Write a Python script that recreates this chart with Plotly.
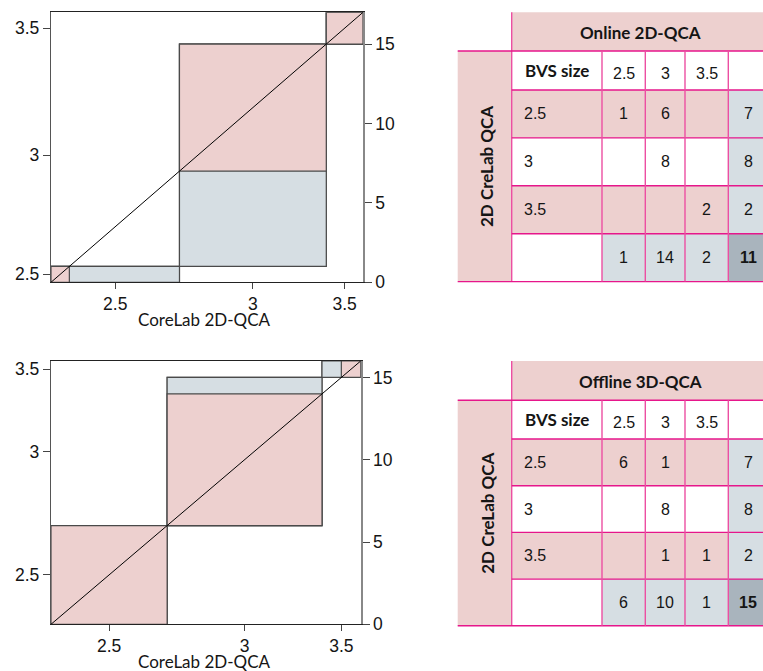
import plotly.graph_objects as go

# ---------------- data ----------------
categories = ["2.5", "3", "3.5"]
# cross-tabulations drawn in the agreement charts
# rows = CoreLab 2D-QCA (x axis), columns = compared method (y axis)
online_chart_counts = [[1, 6, 0], [0, 8, 0], [0, 0, 2]]
offline_chart_counts = [[6, 0, 0], [0, 8, 0], [0, 1, 1]]
count_ticks = [0, 5, 10, 15]

x_title = "CoreLab 2D-QCA"
row_axis_title = "2D CreLab QCA"
corner_label = "BVS size"

online_title = "Online 2D-QCA"
online_cells = [["1", "6", ""], ["", "8", ""], ["", "", "2"]]
online_row_totals = ["7", "8", "2"]
online_col_totals = ["1", "14", "2"]
online_agreement = "11"

offline_title = "Offline 3D-QCA"
offline_cells = [["6", "1", ""], ["", "8", ""], ["", "1", "1"]]
offline_row_totals = ["7", "8", "2"]
offline_col_totals = ["6", "10", "1"]
offline_agreement = "15"

# ---------------- style ----------------
W, H = 763, 671
PINK = "#edd0cf"
GREY = "#d6dee3"
DARK = "#a9b4bd"
MAG = "#e6168b"
MAG_V = "#ec4fa2"
BORDER = "#4a4a4a"
TXT = "#151515"
NUM_FONT = "Liberation Sans, Arial, sans-serif"
LAB_FONT = "Lato, Open Sans, sans-serif"


def px(x):
    return x / W


def py(y):
    return 1 - y / H


fig = go.Figure()
shapes = []
annotations = []


def add_chart(counts, xname, yname, y2name, dom_x, dom_y, title_y):
    n = len(counts)
    row_tot = [sum(r) for r in counts]
    col_tot = [sum(counts[k][i] for k in range(n)) for i in range(n)]
    total = sum(row_tot)
    xref, yref = xname.replace("axis", ""), yname.replace("axis", "")
    x_start = [sum(row_tot[:i]) for i in range(n)]
    y_start = [sum(col_tot[:i]) for i in range(n)]
    for i in range(n):
        x0, y0 = x_start[i], y_start[i]
        shapes.append(dict(type="rect", xref=xref, yref=yref, x0=x0, x1=x0 + row_tot[i],
                           y0=y0, y1=y0 + col_tot[i], fillcolor="rgba(0,0,0,0)",
                           line=dict(color=BORDER, width=1.2), layer="below"))
        lo, hi = max(0, i - 1), min(n - 1, i + 1)
        px0 = x0 + sum(counts[i][j] for j in range(lo))
        px1 = x0 + sum(counts[i][j] for j in range(hi + 1))
        py0 = y0 + sum(counts[k][i] for k in range(lo))
        py1 = y0 + sum(counts[k][i] for k in range(hi + 1))
        if px1 > px0 and py1 > py0:
            shapes.append(dict(type="rect", xref=xref, yref=yref, x0=px0, x1=px1, y0=py0, y1=py1,
                               fillcolor=GREY, line=dict(color=BORDER, width=1.2), layer="below"))
        d = counts[i][i]
        if d > 0:
            ax0 = x0 + sum(counts[i][j] for j in range(i))
            ay0 = y0 + sum(counts[k][i] for k in range(i))
            shapes.append(dict(type="rect", xref=xref, yref=yref, x0=ax0, x1=ax0 + d, y0=ay0, y1=ay0 + d,
                               fillcolor=PINK, line=dict(color=BORDER, width=1.2), layer="below"))
    fig.add_trace(go.Scatter(x=[0, total], y=[0, total], mode="lines", xaxis=xref, yaxis=yref,
                             line=dict(color="black", width=1), hoverinfo="skip", showlegend=False))
    y2ref = y2name.replace("axis", "")
    fig.add_trace(go.Scatter(x=[0, total], y=[0, total], mode="lines", xaxis=xref, yaxis=y2ref,
                             line=dict(color="rgba(0,0,0,0)", width=0), hoverinfo="skip", showlegend=False))
    xt = [x_start[i] + row_tot[i] / 2 for i in range(n)]
    yt = [y_start[i] + col_tot[i] / 2 for i in range(n)]
    tickfont = dict(family=NUM_FONT, size=17.5, color=TXT)
    fig.layout[xname] = dict(domain=dom_x, anchor=yref, range=[0, total], tickvals=xt, ticktext=categories,
                             showgrid=False, zeroline=False, showline=True, linecolor="#222", linewidth=1,
                             mirror=True, ticks="outside", ticklen=6, tickcolor="#444", tickfont=tickfont,
                             fixedrange=True, automargin=False)
    fig.layout[yname] = dict(domain=dom_y, anchor=xref, range=[0, total], tickvals=yt, ticktext=categories,
                             showgrid=False, zeroline=False, showline=True, linecolor="#555", linewidth=1.3,
                             ticks="outside", ticklen=7, tickcolor="#444", tickfont=tickfont, fixedrange=True,
                             automargin=False)
    fig.layout[y2name] = dict(overlaying=yref, anchor=xref, side="right", range=[0, total],
                              tickvals=count_ticks, showgrid=False, zeroline=False, showline=True,
                              linecolor="#888", linewidth=1.6, ticks="outside", ticklen=7, tickcolor="#444",
                              tickfont=tickfont, fixedrange=True, automargin=False)
    annotations.append(dict(xref="paper", yref="paper", x=px(204), y=py(title_y),
                            text=x_title, showarrow=False, xanchor="center", yanchor="middle",
                            font=dict(family=LAB_FONT, size=17, color=TXT)))


add_chart(online_chart_counts, "xaxis", "yaxis", "yaxis2",
          [px(51), px(363)], [py(282.3), py(12.3)], 319)
add_chart(offline_chart_counts, "xaxis2", "yaxis3", "yaxis4",
          [px(51), px(360.7)], [py(624.3), py(361)], 661)


def rect(x0, x1, y0, y1, color):
    shapes.append(dict(type="rect", xref="paper", yref="paper", x0=px(x0), x1=px(x1), y0=py(y1), y1=py(y0),
                       fillcolor=color, line=dict(width=0), layer="below"))


def hline(x0, x1, y, color=MAG):
    shapes.append(dict(type="line", xref="paper", yref="paper", x0=px(x0), x1=px(x1), y0=py(y), y1=py(y),
                       line=dict(color=color, width=1.4)))


def vline(x, y0, y1, color=MAG_V):
    shapes.append(dict(type="line", xref="paper", yref="paper", x0=px(x), x1=px(x), y0=py(y0), y1=py(y1),
                       line=dict(color=color, width=1.4)))


def text(x, y, s, size=16, bold=False, family=NUM_FONT, anchor="center", angle=0):
    annotations.append(dict(xref="paper", yref="paper", x=px(x), y=py(y), text=f"<b>{s}</b>" if bold else s,
                            showarrow=False, xanchor=anchor, yanchor="middle", textangle=angle,
                            font=dict(family=family, size=size, color=TXT)))


def add_table(top, header_h, first_h, row_h, title, cells, row_tot, col_tot, agree):
    band_l, band_r = 457.7, 511.7
    col_edges = [511.7, 602.0, 645.3, 685.0, 728.3, 768.0]
    head_b = top + header_h
    row_edges = [head_b, head_b + first_h] + [head_b + first_h + row_h * (k + 1) for k in range(4)]
    bottom = row_edges[-1]
    rect(band_r, col_edges[-1], top, head_b, PINK)
    rect(band_l, band_r, head_b, bottom, PINK)
    for i in range(3):
        y0, y1 = row_edges[i + 1], row_edges[i + 2]
        rect(col_edges[0], col_edges[4], y0, y1, PINK if i != 1 else "white")
        rect(col_edges[4], col_edges[5], y0, y1, GREY)
    y0, y1 = row_edges[4], row_edges[5]
    rect(col_edges[1], col_edges[4], y0, y1, GREY)
    rect(col_edges[4], col_edges[5], y0, y1, DARK)
    vline(band_r, top, bottom)
    hline(band_l, col_edges[-1], head_b)
    for ye in row_edges[1:-1]:
        hline(band_r, col_edges[-1], ye)
    hline(band_l, col_edges[-1], bottom)
    for xe in col_edges[1:5]:
        vline(xe, head_b, bottom)
    text(640, top + header_h / 2 + 1, title, size=17, bold=True, family=LAB_FONT)
    text((band_l + band_r) / 2 + 2, (head_b + bottom) / 2, row_axis_title, size=17, bold=True,
         family=LAB_FONT, angle=-90)
    rc = (row_edges[0] + row_edges[1]) / 2
    text(523, rc, corner_label, size=17, bold=True, family=LAB_FONT, anchor="left")
    ccen = [(col_edges[j] + col_edges[j + 1]) / 2 for j in range(5)]
    ccen[4] = 748
    for j, c in enumerate(categories):
        text(ccen[j + 1], rc + 3, c)
    for i in range(3):
        yc = (row_edges[i + 1] + row_edges[i + 2]) / 2
        text(521.5, yc, categories[i], anchor="left")
        for j in range(3):
            if cells[i][j]:
                text(ccen[j + 1], yc, cells[i][j])
        text(ccen[4], yc, row_tot[i])
    yc = (row_edges[4] + row_edges[5]) / 2
    for j in range(3):
        text(ccen[j + 1], yc, col_tot[j])
    text(ccen[4], yc, agree, bold=True)


add_table(12.3, 38.7, 39.0, 47.9, online_title, online_cells, online_row_totals, online_col_totals,
          online_agreement)
add_table(361.0, 39.3, 38.7, 46.7, offline_title, offline_cells, offline_row_totals, offline_col_totals,
          offline_agreement)

fig.update_layout(width=W, height=H, margin=dict(l=0, r=0, t=0, b=0, autoexpand=False),
                  paper_bgcolor="white", plot_bgcolor="rgba(0,0,0,0)", showlegend=False,
                  shapes=shapes, annotations=annotations)

fig.write_html("out.html", config={"displayModeBar": False},
               post_script="document.body.style.margin='0';document.body.style.overflow='hidden';")
